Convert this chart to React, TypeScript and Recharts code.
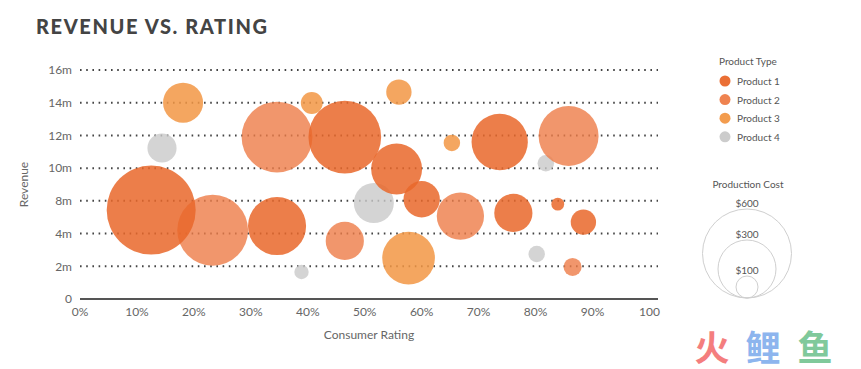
import { ScatterChart, Scatter, XAxis, YAxis, ZAxis, CartesianGrid, Label } from "recharts";

// rating in %, revenue in grid steps (the axis labels skip 6m), cost in $
const xTicks = [0, 10, 20, 30, 40, 50, 60, 70, 80, 90, 100];
const xTickLabels = ["0%", "10%", "20%", "30%", "40%", "50%", "60%", "70%", "80%", "90%", "100"];
const yTicks = [0, 2, 4, 6, 8, 10, 12, 14];
const yTickLabels = ["0", "2m", "4m", "8m", "10m", "12m", "14m", "16m"];

const product1 = [
  { rating: 12.5, revenue: 5.44, cost: 727 },
  { rating: 34.6, revenue: 4.46, cost: 310 },
  { rating: 46.5, revenue: 9.9, cost: 485 },
  { rating: 55.6, revenue: 7.95, cost: 238 },
  { rating: 60.0, revenue: 6.1, cost: 121 },
  { rating: 73.7, revenue: 9.6, cost: 291 },
  { rating: 76.1, revenue: 5.26, cost: 134 },
  { rating: 83.9, revenue: 5.8, cost: 15 },
  { rating: 88.4, revenue: 4.7, cost: 59 },
];

const product2 = [
  { rating: 23.3, revenue: 4.2, cost: 461 },
  { rating: 34.6, revenue: 9.9, cost: 461 },
  { rating: 46.5, revenue: 3.55, cost: 134 },
  { rating: 66.8, revenue: 5.07, cost: 205 },
  { rating: 85.8, revenue: 9.97, cost: 330 },
  { rating: 86.5, revenue: 1.96, cost: 30 },
];

const product3 = [
  { rating: 18.1, revenue: 12.0, cost: 147 },
  { rating: 40.7, revenue: 11.98, cost: 44 },
  { rating: 56.0, revenue: 12.65, cost: 59 },
  { rating: 57.7, revenue: 2.5, cost: 255 },
  { rating: 65.3, revenue: 9.54, cost: 25 },
];

const product4 = [
  { rating: 14.4, revenue: 9.23, cost: 78 },
  { rating: 38.9, revenue: 1.65, cost: 19 },
  { rating: 51.6, revenue: 5.87, cost: 147 },
  { rating: 81.8, revenue: 8.3, cost: 25 },
  { rating: 80.2, revenue: 2.75, cost: 25 },
];

const productNames = ["Product 1", "Product 2", "Product 3", "Product 4"];
const costLabels = ["$600", "$300", "$100"];

const COLORS = ["#E9672A", "#EE7C47", "#F29744", "#C9C9C9"];
const OPACITY = [0.85, 0.8, 0.85, 0.8];
const LEGEND_R = [44.5, 29, 11];
const FONT = "Lato, 'Open Sans', sans-serif";
const MAX_R = 44.5;

export default function App() {
  const tick = { fontSize: 12, fill: "#666", fontFamily: FONT };
  return (
    <div style={{ position: "absolute", left: 0, top: 0, width: 861, height: 369, background: "#fff", fontFamily: FONT }}>
      <div
        style={{
          position: "absolute",
          left: 36,
          top: 14,
          fontSize: 20,
          fontWeight: 900,
          color: "#444",
          letterSpacing: 1.6,
          fontFamily: FONT,
        }}
      >
        REVENUE VS. RATING
      </div>

      <ScatterChart width={861} height={369} margin={{ top: 70, right: 203, bottom: 30, left: 0 }}>
        <CartesianGrid
          horizontal
          vertical={false}
          stroke="#444"
          strokeWidth={2}
          strokeDasharray="1.6 4.6"
        />
        <XAxis
          type="number"
          dataKey="rating"
          domain={[0, 101.5]}
          ticks={xTicks}
          tickFormatter={(v) => xTickLabels[xTicks.indexOf(v)] ?? ""}
          tick={tick}
          tickLine={false}
          axisLine={{ stroke: "#555", strokeWidth: 2 }}
          height={40}
          allowDataOverflow
        >
          <Label value="Consumer Rating" position="insideBottom" offset={0} style={{ fontSize: 12, fill: "#666", fontFamily: FONT }} />
        </XAxis>
        <YAxis
          type="number"
          dataKey="revenue"
          domain={[0, 14]}
          ticks={yTicks}
          tickFormatter={(v) => yTickLabels[yTicks.indexOf(v)] ?? ""}
          tick={tick}
          tickLine={false}
          axisLine={false}
          width={80}
          allowDataOverflow
        >
          <Label
            value="Revenue"
            angle={-90}
            position="insideLeft"
            offset={24}
            style={{ fontSize: 12, fill: "#666", fontFamily: FONT, textAnchor: "middle" }}
          />
        </YAxis>
        <ZAxis type="number" dataKey="cost" domain={[0, 600]} range={[0, Math.PI * MAX_R * MAX_R]} />
        <Scatter name="Product 4" data={product4} fill={COLORS[3]} fillOpacity={OPACITY[3]} isAnimationActive={false} />
        <Scatter name="Product 3" data={product3} fill={COLORS[2]} fillOpacity={OPACITY[2]} isAnimationActive={false} />
        <Scatter name="Product 2" data={product2} fill={COLORS[1]} fillOpacity={OPACITY[1]} isAnimationActive={false} />
        <Scatter name="Product 1" data={product1} fill={COLORS[0]} fillOpacity={OPACITY[0]} isAnimationActive={false} />
      </ScatterChart>

      {/* legends */}
      <svg width={861} height={369} style={{ position: "absolute", left: 0, top: 0, pointerEvents: "none" }}>
        <text x={719} y={61} dominantBaseline="central" fontSize={10} fill="#555" fontFamily={FONT}>
          Product Type
        </text>
        {productNames.map((name, i) => (
          <g key={name}>
            <circle cx={725} cy={81 + i * 18.6} r={5.5} fill={COLORS[i]} fillOpacity={0.95} />
            <text x={737} y={81 + i * 18.6} dominantBaseline="central" fontSize={10} fill="#555" fontFamily={FONT}>
              {name}
            </text>
          </g>
        ))}

        <text x={748} y={184} dominantBaseline="central" textAnchor="middle" fontSize={10} fill="#555" fontFamily={FONT}>
          Production Cost
        </text>
        {costLabels.map((label, i) => (
          <g key={label}>
            <circle cx={747} cy={298 - LEGEND_R[i]} r={LEGEND_R[i]} fill="none" stroke="#cfcfcf" strokeWidth={1} />
            <text
              x={747}
              y={298 - 2 * LEGEND_R[i] - 6}
              dominantBaseline="central"
              textAnchor="middle"
              fontSize={10}
              fill="#555"
              fontFamily={FONT}
            >
              {label}
            </text>
          </g>
        ))}

        <g fontSize={35} fontWeight={700} fontFamily="'Noto Sans CJK SC', sans-serif" textAnchor="middle">
          <text x={712} y={345} dominantBaseline="central" fill="#F47E7E">火</text>
          <text x={763} y={345} dominantBaseline="central" fill="#8DB5EE">鲤</text>
          <text x={815} y={345} dominantBaseline="central" fill="#80C99B">鱼</text>
        </g>
      </svg>
    </div>
  );
}
